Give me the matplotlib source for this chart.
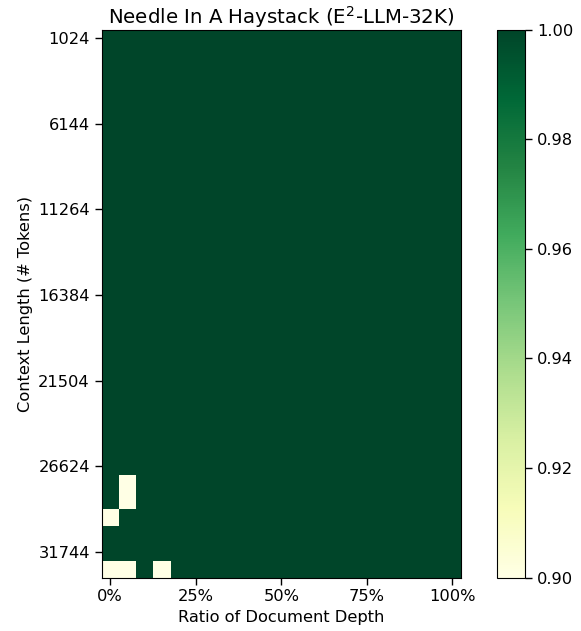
import numpy as np
import matplotlib
matplotlib.use("Agg")
import matplotlib.pyplot as plt

# Context lengths (rows) and needle depth ratios (columns)
context_lengths = list(range(1024, 32768 + 1, 1024))
depth_ratios = [i * 5 for i in range(21)]  # percent

# Retrieval scores: all 1.0 except the few misses below
misses = [
    (27648, 5, 0.9),
    (28672, 5, 0.9),
    (29696, 0, 0.9),
    (32768, 0, 0.9),
    (32768, 5, 0.9),
    (32768, 15, 0.9),
]

scores = np.ones((len(context_lengths), len(depth_ratios)))
for length, depth, val in misses:
    scores[context_lengths.index(length), depth_ratios.index(depth)] = val

ytick_labels = [1024, 6144, 11264, 16384, 21504, 26624, 31744]
xtick_labels = ["0%", "25%", "50%", "75%", "100%"]

fs = 11.7
fig = plt.figure(figsize=(5.81, 6.31), dpi=100)
ax = fig.add_axes([0.175, 0.0845, 0.6185, 0.8687])
cax = fig.add_axes([0.8554, 0.0845, 0.0482, 0.8687])

im = ax.imshow(scores, cmap="YlGn", vmin=0.9, vmax=1.0, aspect="auto",
               interpolation="nearest")

ax.set_yticks([context_lengths.index(v) for v in ytick_labels])
ax.set_yticklabels([str(v) for v in ytick_labels], fontsize=fs)
ax.set_xticks([depth_ratios.index(v) for v in (0, 25, 50, 75, 100)])
ax.set_xticklabels(xtick_labels, fontsize=fs)
ax.tick_params(length=5, width=1)

ax.set_xlabel("Ratio of Document Depth", fontsize=fs)
ax.set_ylabel("Context Length (# Tokens)", fontsize=fs)
ax.set_title("Needle In A Haystack (E$^2$-LLM-32K)", fontsize=14.2, pad=2.5)

cb = fig.colorbar(im, cax=cax)
cb.set_ticks([0.90, 0.92, 0.94, 0.96, 0.98, 1.00])
cb.ax.set_yticklabels(["0.90", "0.92", "0.94", "0.96", "0.98", "1.00"], fontsize=fs)
cb.ax.tick_params(length=5, width=1)

fig.savefig("out.png", dpi=100)
